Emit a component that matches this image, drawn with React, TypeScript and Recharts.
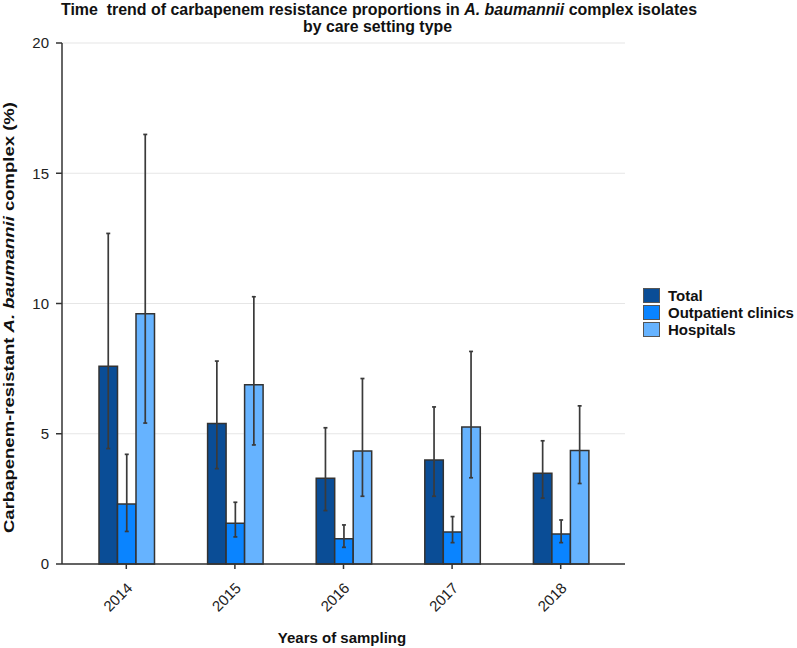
import React from 'react';
import { BarChart, Bar, XAxis, YAxis, CartesianGrid, ErrorBar } from 'recharts';

const years = ['2014', '2015', '2016', '2017', '2018'];
const total = [7.59, 5.39, 3.29, 3.99, 3.48];
const totalLow = [4.43, 3.66, 2.05, 2.6, 2.53];
const totalHigh = [12.69, 7.79, 5.23, 6.03, 4.73];
const outpatient = [2.3, 1.56, 0.97, 1.23, 1.15];
const outpatientLow = [1.25, 1.04, 0.64, 0.82, 0.82];
const outpatientHigh = [4.21, 2.37, 1.5, 1.82, 1.69];
const hospitals = [9.61, 6.88, 4.34, 5.26, 4.36];
const hospitalsLow = [5.41, 4.57, 2.6, 3.31, 3.09];
const hospitalsHigh = [16.49, 10.26, 7.12, 8.16, 6.07];
const yTicks = [0, 5, 10, 15, 20];

const seriesNames = ['Total', 'Outpatient clinics', 'Hospitals'];
const colors = ['#0A4D96', '#0A84FF', '#66B3FF'];

const data = years.map((year, i) => ({
  year,
  total: total[i],
  totalErr: [total[i] - totalLow[i], totalHigh[i] - total[i]],
  outpatient: outpatient[i],
  outpatientErr: [outpatient[i] - outpatientLow[i], outpatientHigh[i] - outpatient[i]],
  hospitals: hospitals[i],
  hospitalsErr: [hospitals[i] - hospitalsLow[i], hospitalsHigh[i] - hospitals[i]],
}));

const FONT = '"Liberation Sans", Arial, sans-serif';

const XTick = (props: any) => {
  const { x, y, payload } = props;
  const tx = x + 7;
  const ty = y + 18;
  return (
    <text
      x={tx}
      y={ty}
      textAnchor="end"
      transform={`rotate(-45, ${tx}, ${ty})`}
      fontSize={15}
      fontFamily={FONT}
      fill="#222"
    >
      {payload.value}
    </text>
  );
};

export default function App() {
  const keys = ['total', 'outpatient', 'hospitals'];
  return (
    <div style={{ position: 'absolute', left: 0, top: 0, width: 797, height: 648, background: '#fff', fontFamily: FONT }}>
      <BarChart
        width={797}
        height={648}
        data={data}
        margin={{ top: 43, right: 172, bottom: 34, left: 22 }}
        barGap={0}
        barSize={18.5}
      >
        <CartesianGrid vertical={false} stroke="#e6e6e6" strokeWidth={1.2} />
        <XAxis
          dataKey="year"
          height={50}
          padding={{ left: 10, right: 10 }}
          tick={<XTick />}
          tickSize={5}
          axisLine={{ stroke: '#333', strokeWidth: 1.5 }}
          tickLine={{ stroke: '#333', strokeWidth: 1.5 }}
          interval={0}
        />
        <YAxis
          width={40}
          domain={[0, 20]}
          ticks={yTicks}
          tickSize={6}
          tickMargin={7}
          tick={{ fontSize: 15, fill: '#222', fontFamily: FONT }}
          axisLine={{ stroke: '#333', strokeWidth: 1.5 }}
          tickLine={{ stroke: '#333', strokeWidth: 1.5 }}
        />
        {keys.map((k, i) => (
          <Bar
            key={k}
            dataKey={k}
            name={seriesNames[i]}
            fill={colors[i]}
            stroke="#333"
            strokeWidth={1.5}
            isAnimationActive={false}
          >
            <ErrorBar dataKey={`${k}Err`} width={2} stroke="#3a3a3a" strokeWidth={1.7} direction="y" />
          </Bar>
        ))}
      </BarChart>

      <svg
        width={797}
        height={648}
        style={{ position: 'absolute', left: 0, top: 0, pointerEvents: 'none' }}
      >
        <text
          x={379}
          y={15}
          textAnchor="middle"
          fontSize={16}
          fontWeight="bold"
          fontFamily={FONT}
          fill="#111"
          textLength={636}
          lengthAdjust="spacingAndGlyphs"
          style={{ whiteSpace: 'pre' }}
        >
          <tspan>Time  trend of carbapenem resistance proportions in </tspan>
          <tspan fontStyle="italic">A. baumannii</tspan>
          <tspan> complex isolates</tspan>
        </text>
        <text
          x={377.5}
          y={32}
          textAnchor="middle"
          fontSize={16}
          fontWeight="bold"
          fontFamily={FONT}
          fill="#111"
          textLength={149}
          lengthAdjust="spacingAndGlyphs"
        >
          by care setting type
        </text>
        <text
          x={14}
          y={317.5}
          transform="rotate(-90, 14, 317.5)"
          textAnchor="middle"
          fontSize={15}
          fontWeight="bold"
          fontFamily={FONT}
          fill="#111"
          textLength={431}
          lengthAdjust="spacingAndGlyphs"
        >
          <tspan>Carbapenem-resistant </tspan>
          <tspan fontStyle="italic">A. baumannii</tspan>
          <tspan> complex (%)</tspan>
        </text>
        <text
          x={342}
          y={643}
          textAnchor="middle"
          fontSize={15}
          fontWeight="bold"
          fontFamily={FONT}
          fill="#111"
        >
          Years of sampling
        </text>
      </svg>

      <div style={{ position: 'absolute', left: 643, top: 287 }}>
        {seriesNames.map((n, i) => (
          <div key={n} style={{ display: 'flex', alignItems: 'center', height: 17 }}>
            <div
              style={{
                width: 15,
                height: 13,
                background: colors[i],
                border: '1.5px solid #555',
              }}
            />
            <span style={{ marginLeft: 8, fontSize: 15, fontWeight: 'bold', color: '#111', whiteSpace: 'nowrap' }}>{n}</span>
          </div>
        ))}
      </div>
    </div>
  );
}
